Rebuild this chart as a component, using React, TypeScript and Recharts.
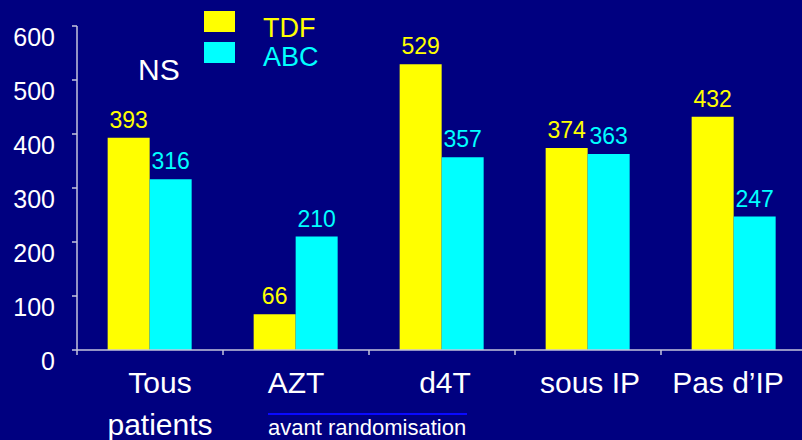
import { BarChart, Bar, XAxis, YAxis, LabelList, Legend } from "recharts";

const categories = ["Tous patients", "AZT", "d4T", "sous IP", "Pas d’IP"];
const tdfValues = [393, 66, 529, 374, 432];
const abcValues = [316, 210, 357, 363, 247];
const yTicks = [0, 100, 200, 300, 400, 500, 600];
const seriesOrder = ["TDF", "ABC"];

const BG = "#000080";
const YELLOW = "#ffff00";
const CYAN = "#00ffff";
const AXIS = "#c4c4dc";
const FONT = '"Liberation Sans", Arial, sans-serif';

const data = categories.map((name, i) => ({
  name,
  TDF: tdfValues[i],
  ABC: abcValues[i],
}));

function YTick(props: any) {
  const { x, y, payload } = props;
  return (
    <text
      x={x - 15}
      y={y + 11}
      textAnchor="end"
      dominantBaseline="central"
      fill="#ffffff"
      fontSize={25}
      fontFamily={FONT}
    >
      {payload.value}
    </text>
  );
}

// per-category nudges of the label, to follow the slide
const labelShift = [10, 0, 3, 2, -6];

function XTick(props: any) {
  const { x, y, payload, index } = props;
  const half = payload.offset ?? 73;
  const multi = payload.value === "Tous patients";
  const shown = multi ? String(payload.value).split(" ") : [payload.value];
  const top = y - 7; // axis line
  return (
    <g>
      <line x1={x - half} x2={x - half} y1={top} y2={top + 5} stroke={AXIS} strokeWidth={1.5} />
      {shown.map((t: string, k: number) => (
        <text
          key={k}
          x={x + (labelShift[index] ?? 0)}
          y={top + 43 + k * 42}
          textAnchor="middle"
          fill="#ffffff"
          fontSize={30}
          fontFamily={FONT}
        >
          {t}
        </text>
      ))}
    </g>
  );
}

function LegendBox(props: any) {
  const items = [...(props.payload || [])].sort(
    (a: any, b: any) => seriesOrder.indexOf(a.value) - seriesOrder.indexOf(b.value)
  );
  return (
    <svg width={150} height={72}>
      {items.map((it: any, i: number) => (
        <g key={it.value}>
          <rect x={14} y={11 + i * 31} width={31} height={21} fill={it.color} />
          <text
            x={73}
            y={37 + i * 29}
            fill={it.color}
            fontSize={27}
            fontFamily={FONT}
          >
            {it.value}
          </text>
        </g>
      ))}
    </svg>
  );
}

export default function App() {
  return (
    <div
      style={{
        position: "absolute",
        left: 0,
        top: 0,
        width: 802,
        height: 440,
        overflow: "hidden",
        background: BG,
        fontFamily: FONT,
      }}
    >
      <BarChart
        width={807}
        height={440}
        data={data}
        margin={{ top: 26, right: 0, bottom: 0, left: 0 }}
        barCategoryGap="21%"
        barGap={0}
      >
        <YAxis
          width={77}
          domain={[0, 600]}
          ticks={yTicks}
          interval={0}
          tickSize={5}
          axisLine={{ stroke: AXIS, strokeWidth: 1.5 }}
          tickLine={{ stroke: AXIS, strokeWidth: 1.5 }}
          tick={<YTick />}
        />
        <XAxis
          dataKey="name"
          height={90}
          interval={0}
          tickSize={5}
          axisLine={{ stroke: AXIS, strokeWidth: 1.5 }}
          tickLine={false}
          tick={<XTick />}
        />
        <Legend
          layout="vertical"
          align="center"
          verticalAlign="middle"
          wrapperStyle={{ left: 190, top: 0, width: 150, height: 72 }}
          content={<LegendBox />}
        />
        <Bar dataKey="TDF" fill={YELLOW} isAnimationActive={false}>
          <LabelList
            dataKey="TDF"
            position="top"
            offset={10}
            fill={YELLOW}
            fontSize={23}
            fontFamily={FONT}
          />
        </Bar>
        <Bar dataKey="ABC" fill={CYAN} isAnimationActive={false}>
          <LabelList
            dataKey="ABC"
            position="top"
            offset={10}
            fill={CYAN}
            fontSize={23}
            fontFamily={FONT}
          />
        </Bar>
      </BarChart>
      <svg
        width={802}
        height={440}
        style={{ position: "absolute", left: 0, top: 0, pointerEvents: "none" }}
      >
        <text x={138} y={80} fill="#ffffff" fontSize={30} fontFamily={FONT}>
          NS
        </text>
        <line x1={268} x2={467} y1={414} y2={414} stroke="#0a0aff" strokeWidth={2} />
        <text x={268} y={435} fill="#ffffff" fontSize={22} fontFamily={FONT}>
          avant randomisation
        </text>
      </svg>
    </div>
  );
}
